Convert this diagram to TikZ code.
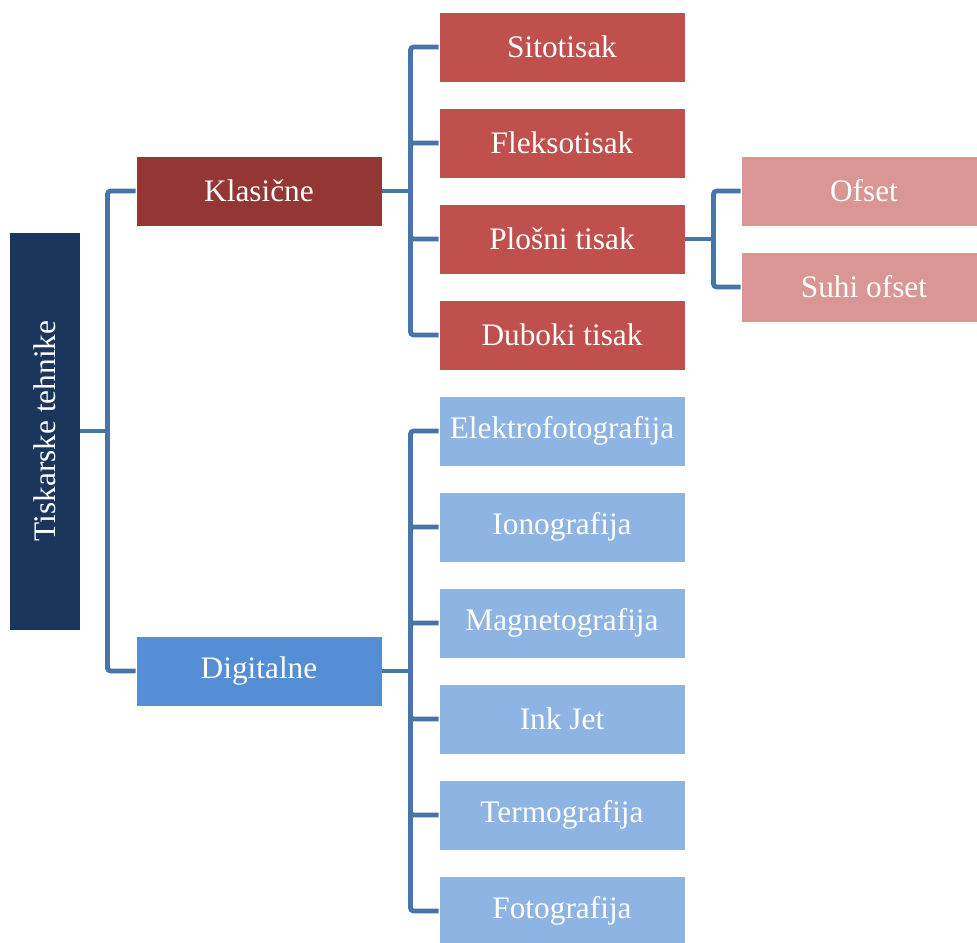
\documentclass[tikz,border=0pt]{standalone}
\usepackage{fontspec}
\setmainfont{Liberation Serif}
\usetikzlibrary{positioning}

\definecolor{rootnavy}{RGB}{27,54,93}
\definecolor{klasred}{RGB}{148,54,52}
\definecolor{subred}{RGB}{192,80,77}
\definecolor{palered}{RGB}{217,150,148}
\definecolor{digblue}{RGB}{85,142,213}
\definecolor{subblue}{RGB}{142,180,227}
\definecolor{linkblue}{RGB}{72,116,168}

\begin{document}
\begin{tikzpicture}[x=0.75pt,y=-0.75pt,node distance=18.9pt,
    box/.style={draw=white,line width=0.6pt,minimum width=184.5pt,minimum height=52.5pt,
      inner sep=0pt,text=white,font=\fontsize{23.5}{28}\selectfont},
    rootbox/.style={box,fill=rootnavy,rotate=90,minimum width=298.5pt,minimum height=53.25pt},
    klasbox/.style={box,fill=klasred},
    redbox/.style={box,fill=subred},
    palebox/.style={box,fill=palered},
    digbox/.style={box,fill=digblue},
    bluebox/.style={box,fill=subblue},
    link/.style={draw=linkblue,line width=3.6pt,rounded corners=2.5pt}]
  \useasboundingbox (0,0) rectangle (977,942);

  % root (rotated, so its south side faces right)
  \node[rootbox] (root) at (44.5,431) {Tiskarske tehnike};
  \node[klasbox] (klas) at (259,191) {Klasi\v{c}ne};
  \node[digbox] (dig) at (259,671) {Digitalne};

  % klasicne
  \node[redbox] (sito) at (562,47) {Sitotisak};
  \node[redbox] (fleks) [below=of sito] {Fleksotisak};
  \node[redbox] (plos) [below=of fleks] {Plo\v{s}ni tisak};
  \node[redbox] (dub) [below=of plos] {Duboki tisak};

  \node[palebox] (ofset) at (864,191) {Ofset};
  \node[palebox] (suhi) [below=of ofset] {Suhi ofset};

  % digitalne
  \node[bluebox] (elek) at (562,431) {Elektrofotografija};
  \node[bluebox] (iono) [below=of elek] {Ionografija};
  \node[bluebox] (magn) [below=of iono] {Magnetografija};
  \node[bluebox] (ink) [below=of magn] {Ink Jet};
  \node[bluebox] (termo) [below=of ink] {Termografija};
  \node[bluebox] (foto) [below=of termo] {Fotografija};

  \draw[link] (root.south) -- ++(27,0) coordinate (r1);
  \draw[link] (klas.east) -- ++(28,0) coordinate (k1);
  \draw[link] (dig.east) -- ++(28,0) coordinate (d1);
  \draw[link] (plos.east) -- ++(28,0) coordinate (p1);

  \path[link]
    (r1) |- (klas.west)
    (r1) |- (dig.west)

    (k1) |- (sito.west)
    (k1) |- (fleks.west)
    (k1) |- (plos.west)
    (k1) |- (dub.west)

    (p1) |- (ofset.west)
    (p1) |- (suhi.west)

    (d1) |- (elek.west)
    (d1) |- (iono.west)
    (d1) |- (magn.west)
    (d1) |- (ink.west)
    (d1) |- (termo.west)
    (d1) |- (foto.west)
    ;
\end{tikzpicture}
\end{document}
